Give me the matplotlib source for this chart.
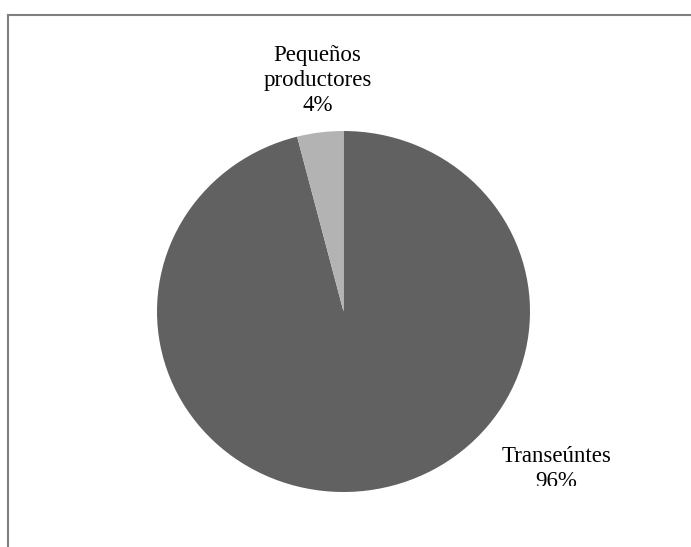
import matplotlib.pyplot as plt
from matplotlib.lines import Line2D
from matplotlib.transforms import Bbox, TransformedBbox

categories = ["Transeúntes", "Pequeños\nproductores"]
values = [96, 4]
colors = ["#616161", "#b3b3b3"]

W, H = 691, 547

fig = plt.figure(figsize=(W / 100, H / 100), dpi=100)

# outer chart frame (cut off on the right and bottom in the original)
fig.add_artist(Line2D([8 / W, 8 / W], [0, 1 - 15 / H], color="#808080", lw=1.5,
                      transform=fig.transFigure))
fig.add_artist(Line2D([8 / W, 1], [1 - 15 / H, 1 - 15 / H], color="#808080", lw=1.5,
                      transform=fig.transFigure))

ax = fig.add_axes([157 / W, 55 / H, 373 / W, 361 / H])
wedges, _ = ax.pie(values, colors=colors, startangle=90, counterclock=False,
                   wedgeprops={"linewidth": 0})
ax.set_aspect("auto")
ax.set_xlim(-1, 1)
ax.set_ylim(-1, 1)
ax.axis("off")

label_pos = [(1.14, -0.875), (-0.14, 1.28)]
# the original clips the lower label at the bottom of the plot area
clip = TransformedBbox(Bbox([[0, 61.5 / H], [1, 1]]), fig.transFigure)

for name, val, (x, y) in zip(categories, values, label_pos):
    t = ax.text(x, y, f"{name}\n{val}%", ha="center", va="center",
                fontsize=16.5, family="Liberation Serif", linespacing=1.25,
                color="black")
    t.set_clip_on(True)
    t.set_clip_box(clip)

fig.savefig("out.png", dpi=100, facecolor="white")
